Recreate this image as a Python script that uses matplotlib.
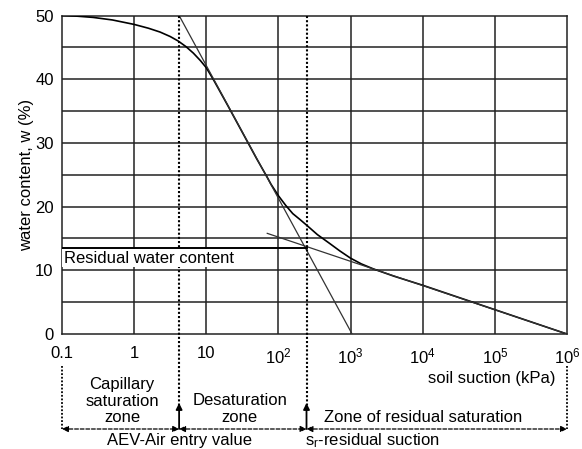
import matplotlib
matplotlib.use('Agg')
import matplotlib.pyplot as plt
import matplotlib.transforms as mtransforms

plt.rcParams['font.family'] = ['Liberation Sans', 'DejaVu Sans']
plt.rcParams['mathtext.fontset'] = 'custom'
plt.rcParams['mathtext.rm'] = 'Liberation Sans'
plt.rcParams['mathtext.it'] = 'Liberation Sans:italic'

# ── values ───────────────────────────────────────────────────────────────────
# soil-water characteristic curve (suction kPa, water content %)
swcc_s = [0.1, 0.16, 0.27, 0.5, 1, 1.58, 2.29, 3.16, 4.07, 5.25, 6.61, 8.32, 10,
          12.6, 20, 50, 70, 79, 100, 126, 158, 200, 245, 347, 501, 708, 1000,
          1413, 2089, 3981, 1e4, 1e5, 1e6]
swcc_w = [50.0, 49.9, 49.7, 49.3, 48.6, 48.0, 47.4, 46.7, 46.0, 45.1, 44.1, 42.9, 41.8,
          39.9, 35.8, 27.5, 24.6, 23.5, 21.7, 20.2, 18.9, 17.95, 17.1, 15.6, 14.3, 13.05, 11.9,
          11.0, 10.2, 9.08, 7.65, 3.82, 0.0]

# construction tangents
steep_s = [4.2, 1050]
steep_w = [50, 0]
resid_s = [70, 1e6]
resid_w = [15.8, 0]

AEV = 4.2          # air entry value, kPa
SR = 245           # residual suction, kPa
W_RES = 13.5       # residual water content, %

xticks = [0.1, 1, 10, 1e2, 1e3, 1e4, 1e5, 1e6]
xtick_labels = ['0.1', '1', '10', r'$\mathregular{10^2}$', r'$\mathregular{10^3}$',
                r'$\mathregular{10^4}$', r'$\mathregular{10^5}$', r'$\mathregular{10^6}$']
yticks = [0, 10, 20, 30, 40, 50]
ygrid = [5, 10, 15, 20, 25, 30, 35, 40, 45]

W, H = 582, 449
FS = 12

def fy(ypix):
    # pixel row (from top) -> figure fraction
    return 1 - ypix / H

# ── plot ─────────────────────────────────────────────────────────────────────
fig = plt.figure(figsize=(W / 100, H / 100), dpi=100)
ax = fig.add_axes([62 / W, fy(334), (567 - 62) / W, (334 - 15.5) / H])
ax.set_xscale('log')
ax.set_xlim(0.1, 1e6)
ax.set_ylim(0, 50)

for yv in ygrid:
    ax.axhline(yv, color='#222222', lw=1.1, zorder=1)
for xv in xticks[1:-1]:
    ax.axvline(xv, color='#222222', lw=1.1, zorder=1)
for sp in ax.spines.values():
    sp.set_color('#222222')
    sp.set_linewidth(1.1)
ax.spines['left'].set_linestyle((0, (1, 1)))

ax.plot(swcc_s, swcc_w, color='black', lw=1.2, zorder=3)
ax.plot(steep_s, steep_w, color='#333333', lw=0.9, zorder=3)
ax.plot(resid_s, resid_w, color='#333333', lw=0.9, zorder=3)

ax.plot([0.1, SR], [W_RES, W_RES], color='black', lw=1.4, zorder=3)
ax.text(0.106, 11.9, 'Residual water content', fontsize=FS, va='center', ha='left',
        zorder=6, bbox=dict(facecolor='white', edgecolor='none', pad=1.0))

ax.set_xticks(xticks)
ax.set_xticklabels(xtick_labels)
ax.minorticks_off()
ax.set_yticks(yticks)
ax.tick_params(axis='x', length=0, labelsize=FS, pad=9)
ax.tick_params(axis='y', length=0, labelsize=FS, pad=6)
ax.set_ylabel('water content, w (%)', fontsize=FS, labelpad=1)

# ── zone annotations below the axes ──────────────────────────────────────────
tr = mtransforms.blended_transform_factory(ax.transData, fig.transFigure)
dot = (0, (1, 1))

for xv in [AEV, SR]:
    ax.plot([xv, xv], [fy(15.5), fy(405)], transform=tr, color='black',
            lw=1.5, ls=dot, clip_on=False, zorder=4)
    ax.annotate('', xy=(xv, fy(403)), xytext=(xv, fy(429)), xycoords=tr,
                textcoords=tr, annotation_clip=False,
                arrowprops=dict(arrowstyle='-|>', lw=1.3, color='black',
                                mutation_scale=9, shrinkA=0, shrinkB=0))
for xv in [0.1, 1e6]:
    ax.plot([xv, xv], [fy(366), fy(429)], transform=tr, color='black',
            lw=1.3, ls=dot, clip_on=False)

for x0, x1 in [(0.1, AEV), (AEV, SR), (SR, 1e6)]:
    ax.annotate('', xy=(x1, fy(429)), xytext=(x0, fy(429)), xycoords=tr,
                textcoords=tr, annotation_clip=False,
                arrowprops=dict(arrowstyle='<|-|>', lw=0.9, color='black',
                                ls=(0, (3, 1.5)), mutation_scale=9,
                                shrinkA=0, shrinkB=0))

ax.text(7e5, fy(378), 'soil suction (kPa)', transform=tr, fontsize=FS,
        ha='right', va='center')
ax.text(0.68, fy(401), 'Capillary\nsaturation\nzone', transform=tr, fontsize=FS,
        ha='center', va='center', linespacing=1.1)
ax.text(29, fy(409), 'Desaturation\nzone', transform=tr, fontsize=FS,
        ha='center', va='center', linespacing=1.1)
ax.text(1.02e4, fy(418), 'Zone of residual saturation', transform=tr, fontsize=FS,
        ha='center', va='center')
ax.text(AEV, fy(441), 'AEV-Air entry value', transform=tr, fontsize=FS,
        ha='center', va='center')
ax.text(SR * 0.95, fy(441), r'$\mathregular{s_r}$-residual suction', transform=tr,
        fontsize=FS, ha='left', va='center')

fig.savefig('out.png', dpi=100)
